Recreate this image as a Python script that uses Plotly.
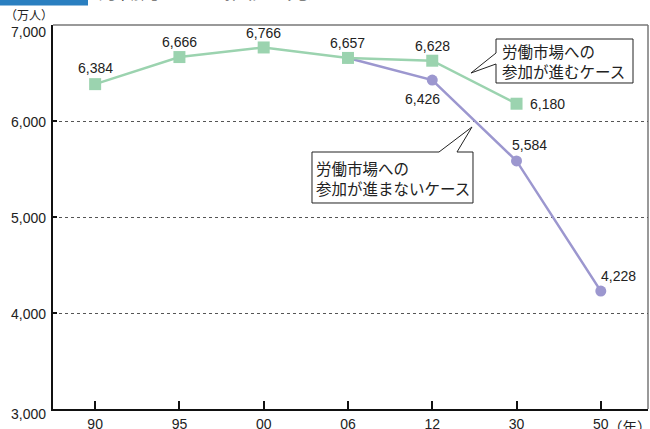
import plotly.graph_objects as go

categories = ["90", "95", "00", "06", "12", "30", "50"]
green_vals = [6384, 6666, 6766, 6657, 6628, 6180]
purple_vals = [6657, 6426, 5584, 4228]
purple_start = 3
y_ticks = [3000, 4000, 5000, 6000, 7000]

GREEN = "#9bd3af"
PURPLE = "#9c97cf"
TXT = "#222222"
FONT = "Liberation Sans, Arial, sans-serif"
JFONT = "Noto Sans CJK JP, sans-serif"

W, H = 650, 429
L, R, T, B = 53, 2, 25, 20
pw, ph = W - L - R, H - T - B

def px(x):
    return (x - L) / pw

def py(y):
    return (H - B - y) / ph

gx = list(range(len(green_vals)))
ux = [purple_start + i for i in range(len(purple_vals))]

fig = go.Figure()
fig.add_trace(go.Scatter(x=ux, y=purple_vals, mode="lines+markers",
                         line=dict(color=PURPLE, width=2.5),
                         marker=dict(symbol="circle", size=11, color=PURPLE),
                         hoverinfo="skip", showlegend=False))
fig.add_trace(go.Scatter(x=gx, y=green_vals, mode="lines+markers",
                         line=dict(color=GREEN, width=2.5),
                         marker=dict(symbol="square", size=12, color=GREEN),
                         hoverinfo="skip", showlegend=False))

ann = []
g_off = [(0, 16), (0, 15), (0, 14), (0, 15), (0, 15), (31, 0)]
for i, v in enumerate(green_vals):
    dx, dy = g_off[i]
    ann.append(dict(x=gx[i], y=v, text=f"{v:,}", showarrow=False, xshift=dx, yshift=dy,
                    font=dict(family=FONT, size=14, color=TXT)))
p_off = [None, (-10, -19), (13, 16), (18, 15)]
for i, v in enumerate(purple_vals):
    if p_off[i] is None:
        continue
    dx, dy = p_off[i]
    ann.append(dict(x=ux[i], y=v, text=f"{v:,}", showarrow=False, xshift=dx, yshift=dy,
                    font=dict(family=FONT, size=14, color=TXT)))

# y tick labels (as text, shifted like the reference)
y_shift = {3000: -5, 7000: -7}
for v in y_ticks:
    ann.append(dict(xref="paper", yref="y", x=px(48), y=v, xanchor="right", yanchor="middle",
                    text=f"{v:,}", showarrow=False, yshift=y_shift.get(v, -1),
                    font=dict(family=FONT, size=14, color=TXT)))

# callout texts
ann.append(dict(xref="paper", yref="paper", x=px(500), y=py(61), xanchor="left", yanchor="middle",
                text="労働市場への<br>参加が進むケース", align="left", showarrow=False,
                font=dict(family=JFONT, size=15.5, color=TXT)))
ann.append(dict(xref="paper", yref="paper", x=px(314), y=py(178), xanchor="left", yanchor="middle",
                text="労働市場への<br>参加が進まないケース", align="left", showarrow=False,
                font=dict(family=JFONT, size=15.5, color=TXT)))
# unit labels
ann.append(dict(xref="paper", yref="paper", x=px(3), y=py(15), xanchor="left", yanchor="middle",
                text="（万人）", showarrow=False, font=dict(family=JFONT, size=12, color=TXT)))
ann.append(dict(xref="paper", yref="paper", x=px(606), y=py(426), xanchor="left", yanchor="middle",
                text="（年）", showarrow=False, font=dict(family=JFONT, size=14.5, color=TXT)))
# cut-off title
ann.append(dict(xref="paper", yref="paper", x=px(96), y=py(6), xanchor="left", yanchor="bottom",
                text="労働力人口の推移と見通し", showarrow=False,
                font=dict(family=JFONT, size=21, color="#111111")))

def poly(pts):
    return "M " + " L ".join(f"{px(a):.5f},{py(b):.5f}" for a, b in pts) + " Z"

shapes = [
    dict(type="line", xref="paper", yref="paper", x0=0, x1=1, y0=1, y1=1,
         line=dict(color="#777777", width=1.5), layer="below"),
    dict(type="line", xref="paper", yref="paper", x0=1, x1=1, y0=0, y1=1,
         line=dict(color="#777777", width=1.5), layer="below"),
    dict(type="path", xref="paper", yref="paper",
         path=poly([(496, 39), (633, 39), (633, 83), (496, 83), (496, 64), (471, 73), (496, 53)]),
         fillcolor="white", line=dict(color="#222222", width=1)),
    dict(type="path", xref="paper", yref="paper",
         path=poly([(312, 152), (439, 152), (472, 127), (457, 152), (473, 152), (473, 203), (312, 203)]),
         fillcolor="white", line=dict(color="#222222", width=1)),
    dict(type="rect", xref="paper", yref="paper", x0=px(0), x1=px(88), y0=py(5.5), y1=py(-10),
         fillcolor="#2a7fc0", line=dict(width=0)),
]

fig.update_layout(
    width=W, height=H, margin=dict(l=L, r=R, t=T, b=B, autoexpand=False),
    paper_bgcolor="white", plot_bgcolor="white",
    annotations=ann, shapes=shapes,
    xaxis=dict(range=[-0.5, 6.56], tickvals=list(range(len(categories))), ticktext=categories,
               automargin=False, showgrid=False, zeroline=False, showline=True,
               linecolor="#111111", linewidth=1.5,
               ticks="inside", ticklen=8, tickwidth=1.5, tickcolor="#111111",
               ticklabelstandoff=1,
               tickfont=dict(family=FONT, size=14, color=TXT), fixedrange=True),
    yaxis=dict(range=[3000, 7000], tickvals=y_ticks, showticklabels=False,
               automargin=False, showgrid=True, gridcolor="#555555", griddash="dot", gridwidth=1,
               zeroline=False, showline=True, linecolor="#111111", linewidth=1.5,
               ticks="inside", ticklen=4, tickwidth=1.5, tickcolor="#111111",
               fixedrange=True),
)

fig.write_html("out.html")
